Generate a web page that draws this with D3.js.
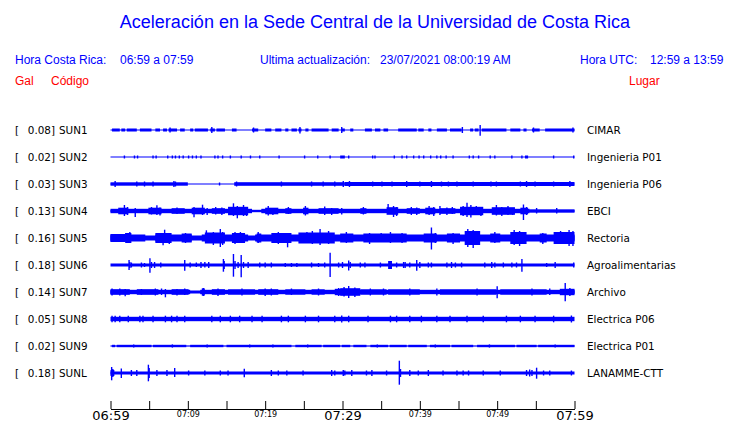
<!DOCTYPE html>
<html>
<head>
<meta charset="utf-8">
<script src="https://cdn.jsdelivr.net/npm/d3@7"></script>
<style>
  body { margin: 0; background: #fff; }
  svg { display: block; }
</style>
</head>
<body>
<svg width="740" height="423"></svg>
<script>
const codes = ["SUN1", "SUN2", "SUN3", "SUN4", "SUN5", "SUN6", "SUN7", "SUN8", "SUN9", "SUNL"];
const gals = [0.08, 0.02, 0.03, 0.13, 0.16, 0.18, 0.14, 0.05, 0.02, 0.18];
const places = ["CIMAR", "Ingenieria P01", "Ingenieria P06", "EBCI", "Rectoria",
  "Agroalimentarias", "Archivo", "Electrica P06", "Electrica P01", "LANAMME-CTT"];

// minutes after 06:59 ; amplitudes as half widths of the trace
const baseWidth = [0.5, 0.5, 0.5, 1.2, 2.5, 1.5, 1.5, 2.2, 0.6, 1.5];

// [start, end, half width]
const bands = [
  [[0.2,1.2,1.5],[1.4,1.9,1.5],[2.1,3.4,1.5],[3.8,5.3,1.5],[5.8,6.4,1.5],[6.8,7.3,1.5],[7.5,8.6,1.5],[9.0,9.6,1.5],
   [10.3,10.7,1.5],[10.9,12.6,1.5],[12.9,13.5,1.5],[13.7,14.8,1.5],[15.7,16.3,1.5],[18.3,19.1,1.5],[20.0,20.8,1.5],
   [21.3,22.1,1.5],[22.6,23.0,1.5],[23.4,24.1,1.5],[24.3,24.7,1.5],[25.2,25.6,1.5],[26.0,28.2,1.5],[28.6,29.5,1.5],
   [29.9,30.3,1.5],[31.0,31.4,1.5],[32.9,33.8,1.5],[34.2,34.9,1.5],[35.3,35.9,1.5],[37.2,39.6,1.5],[39.8,40.5,1.5],
   [41.1,41.5,1.5],[42.2,43.5,1.5],[43.9,45.4,1.5],[46.5,46.9,1.5],[47.1,47.6,1.5],[48.0,51.2,1.5],[51.7,53.0,1.5],
   [53.4,53.8,1.5],[54.5,55.5,1.5],[56.2,60,1.5]],
  [[29.7,30.3,1.5],[53.6,54.0,1.5]],
  [[0,10,1.7],[16,30.3,1.8],[30.3,60,2]],
  [[0,18.3,2.2],[19.5,54.2,2.2],[54.2,60,1.6],[1.0,2.3,3.3],[4.9,6.6,3.3],[7.9,9.6,2.8],[10.5,12.2,3.3],[13.1,14.8,2.8],
   [15.2,17.8,4.2],[20.0,21.7,3.3],[22.6,23.4,2.8],[24.9,25.6,3.3],[26.9,29.5,2.8],[32.3,33.1,2.8],[35.7,37.2,3.8],
   [38.3,40.0,2.8],[40.7,42.0,3.3],[42.6,44.6,2.8],[45.2,48.2,4.2],[49.3,52.3,3.8],[53.0,54.0,3.3]],
  [[0,4.5,3.5],[5.8,10.5,3.5],[11.8,17.8,3.5],[18.7,60,3.5],[0,1.9,4],[1.9,2.7,5],[5.8,7.9,5],[9.2,10.5,4.5],
   [12.2,14.8,5.5],[15.7,17.4,5],[18.9,19.5,4.5],[20.8,23.4,5],[24.3,29.0,5.5],[29.7,31.4,4.5],[32.7,38.3,4.5],
   [40.5,42.2,4.5],[43.5,45.2,4.5],[45.8,47.8,7],[49.1,50.4,4.5],[51.7,53.8,6],[55.5,56.4,4.5],[57.3,60,6]],
  [[35.9,36.4,4]],
  [[0,10.3,2.2],[11.6,60,2.2],[0,2.5,2.8],[3.4,6.2,2.8],[7.9,10.1,2.8],[11.8,12.2,3.6],[13.1,14.8,2.8],[15.2,18.7,2.7],
   [19.1,21.7,2.8],[22.6,25.2,2.7],[26.0,27.7,2.7],[29.0,30.3,3.2],[29.7,32.3,3.8],[32.3,35.7,2.7],[35.9,40.0,2.7],
   [42.6,49.9,2.7],[50.4,56.4,2.7],[58.1,60,3.2]],
  [],
  [[0.2,0.6,1.2],[0.8,5.3,1.2],[5.5,9.8,1.2],[10.3,14.6,1.2],[15.0,23.4,1.2],[23.9,27.3,1.2],[27.5,29.7,1.2],
   [29.9,31.0,1.2],[31.4,33.1,1.2],[33.6,35.9,1.2],[36.1,38.3,1.2],[38.5,40.9,1.2],[41.3,43.9,1.2],[44.1,46.9,1.2],
   [47.4,52.3,1.2],[52.5,55.1,1.2],[55.3,60,1.2]],
  [[0,0.5,3]]
];

// [time, up, down]
const peaks = [
  [[7.7,2.5,2.5],[13.1,3,3],[18.5,2.5,2.5],[24.5,3,3.5],[29.9,3,3],[45.5,3,3],[47.8,5,5.7],[54.7,2.5,2.5],[59.8,2.5,2.5]],
  [[1.8,1.5,1.5],[3.1,1.5,1.5],[3.5,1.5,1.5],[5.5,1.5,1.5],[5.9,1.5,1.5],[7.4,1.5,1.5],[8.0,1.5,1.5],[8.4,1.5,1.5],
   [8.9,1.5,1.5],[9.4,1.5,1.5],[10.1,1.5,1.5],[10.6,1.5,1.5],[11.1,1.5,1.5],[11.7,1.5,1.5],[13.5,1.5,1.5],[13.9,1.5,1.5],
   [14.5,1.5,1.5],[15.5,1.5,1.5],[16.9,1.5,1.5],[18.1,1.5,1.5],[19.3,1.5,1.5],[21.8,1.5,1.5],[25.1,1.5,1.5],[26.8,1.5,1.5],
   [28.4,1.5,1.5],[30.8,1.5,1.5],[33.9,1.5,1.5],[34.2,1.5,1.5],[36.7,1.5,1.5],[37.7,1.5,1.5],[38.3,1.5,1.5],[39.2,1.5,1.5],
   [39.9,1.5,1.5],[40.5,1.5,1.5],[41.4,1.5,1.5],[42.2,1.5,1.5],[42.7,1.5,1.5],[43.4,1.5,1.5],[44.3,1.5,1.5],[46.4,1.5,1.5],
   [46.9,1.5,1.5],[47.6,1.5,1.5],[49.1,1.5,1.5],[49.7,1.5,1.5],[51.9,1.5,1.5],[53.2,1.5,1.5],[57.3,1.5,1.5],[59.9,1.5,1.5]],
  [[0.6,3,3],[3.4,2.5,2.5],[4.4,2.5,2.5],[5.5,2.5,2.5],[8.2,3,3],[8.4,2.5,2.5],[14.1,1.5,1.5],[16.3,2.5,2.5],[22.1,2.5,2.5],
   [26.0,2.5,2.5],[27.5,2.5,2.5],[29.0,2.5,2.5],[30.1,3,3],[30.9,3,3],[33.9,2.5,2.5],[35.1,2.5,2.5],[36.4,2.5,2.5],
   [38.3,3,3],[40.0,2.5,2.5],[41.5,3,3],[42.8,2.5,2.5],[43.7,2.5,2.5],[44.8,2.5,2.5],[46.9,2.5,2.5],[49.2,2.5,2.5],
   [49.9,2.5,2.5],[53.0,2.5,2.5],[53.8,3,3],[54.9,2.5,2.5],[57.3,2.5,2.5],[59.4,3,3]],
  [[1.8,6,5],[2.2,4,4],[3.2,3,6],[5.3,4,3.5],[6.0,5.7,4],[6.4,3.5,4.5],[8.6,3.5,3],[10.8,4,6.3],[11.9,6.3,4],[12.5,3,4],
   [13.6,4,3.5],[14.4,3.5,4],[15.9,7.7,5],[16.4,5,7.3],[17.2,6,5],[17.6,4,5],[20.4,5,4.5],[21.0,3,4],[23.0,4,3],
   [25.2,5,4.5],[27.7,4.5,4],[28.6,3,4],[29.9,3,3.5],[32.7,4,3.5],[35.9,7,3],[36.6,5,6],[37.0,4,5],[38.9,4,4],
   [39.6,3.5,4],[41.2,5,4],[41.8,4,5],[42.6,5,4],[43.5,3.5,4],[44.2,4,3],[45.6,5,5],[46.1,8.3,6],[46.6,6,6.5],
   [47.3,5,4],[47.9,4,5],[49.9,6,4.5],[50.6,4,5],[51.4,5,4],[52.0,3,4],[53.4,6.5,9],[53.8,4,4],[55.1,3,2.5],[57.7,3,2.5]],
  [[2.0,5,4],[2.5,6,5],[6.8,5,7.3],[7.0,8.3,5],[7.6,5,6],[9.7,5,5],[12.4,7.7,5],[13.3,6,7],[14.2,9,9],[14.5,6,7],
   [16.1,6,6],[16.8,6,5],[19.1,6,5],[21.7,6,6],[22.9,5,9.3],[25.4,6,5],[26.1,7,6],[27.1,9,7],[28.2,7,6],[30.5,6,5],
   [33.5,5,6],[35.0,5,4],[36.2,6,5],[37.7,5,5],[41.5,10.5,11.5],[42.0,5,5],[44.3,5,6],[46.2,9,9],[46.9,8,10],[47.5,7,6],
   [49.7,6,5],[52.2,8,7],[52.9,7,8],[55.9,5,6],[58.2,7,6],[59.3,8,8],[59.8,7,8]],
  [[2.4,5,5],[2.5,3,3],[2.7,2.5,2.5],[4.0,2.5,2.5],[4.4,2,2],[5.1,6.7,7.7],[5.3,3,3],[5.7,3,3],[6.5,2.5,2.5],[9.6,5,5.7],
   [10.3,2.5,2.5],[11.1,2.5,2],[11.7,3,3],[12.2,3,2.5],[12.7,3,3],[14.6,6,6.7],[14.7,4,4],[15.9,11,11.7],[16.1,4,4],
   [16.5,3,3],[16.9,10,12.3],[17.2,3,3],[17.8,3,3],[19.3,2.5,2.5],[20.0,2.5,2.5],[20.8,2.5,2.5],[22.6,2,2],[23.4,2,2],
   [24.1,2,2],[26.0,2.5,2.5],[26.9,2,2],[27.7,2.5,2.5],[28.4,12.3,12],[29.5,2.5,2.5],[30.0,3,3],[30.8,4.5,5.5],
   [31.0,3,3],[32.3,2.5,2.5],[32.9,2.5,2.5],[34.9,2.5,2.5],[36.1,4,4],[37.0,2.5,2.5],[37.9,3,3],[38.1,3,3],[38.7,2.5,2.5],
   [39.6,5,5.7],[40.0,3,3],[41.1,2.5,2.5],[41.5,2.5,2.5],[43.5,2.5,2.5],[44.1,3,3],[44.6,2.5,2.5],[45.4,2.5,2.5],
   [48.4,2.5,2.5],[49.3,3,3],[49.7,2.5,2.5],[50.8,2.5,2.5],[51.9,2.5,2.5],[52.5,2.5,2.5],[53.2,6,6.7],[56.4,2,2],
   [57.5,3,3],[59.9,2.5,2.5]],
  [[0.2,3.5,3.5],[1.2,3.5,3.5],[1.9,3,4.3],[4.0,3,3],[5.8,3.5,3.5],[6.6,3.5,3],[7.1,3,5.3],[8.6,3,3.5],[9.6,3.5,3],
   [12.0,4,4],[13.9,3.5,4],[17.0,3.5,3.5],[20.0,3.5,4],[20.8,3.5,3.5],[23.4,3.5,3],[26.9,3.5,3.5],[29.5,4,4],[30.2,5,4.5],
   [30.8,6,6],[31.6,4.5,5],[33.6,3.5,3.5],[35.3,3.5,3.5],[38.7,3.5,3.5],[42.2,3.5,3.5],[47.4,3.5,3.5],[50.0,5.7,6.3],
   [54.5,3.5,3.5],[56.8,3.5,3],[58.8,9,9.3],[59.4,4,4]],
  [[0.2,3.3,3.3],[0.6,3.3,3.3],[1.2,3.3,3.3],[2.3,3.3,3.3],[3.8,3.3,3.3],[4.2,3.3,3.3],[5.5,3.3,3.3],[7.1,3.3,3.3],
   [7.9,3.3,3.3],[8.6,3.3,3.3],[9.6,3.3,3.3],[13.1,3.3,3.3],[14.2,3.3,3.3],[15.5,3.3,3.3],[16.7,3.3,3.3],[18.3,3.3,3.3],
   [19.6,3.3,3.3],[22.1,3.3,3.3],[23.0,3.3,3.3],[25.2,3.3,3.3],[26.9,3.3,3.3],[29.0,3.3,3.3],[29.9,3.5,3.5],
   [30.8,3.3,3.3],[33.3,3.3,3.3],[36.2,3.3,3.3],[37.0,3.3,3.3],[38.7,3.3,3.3],[40.2,3.3,3.3],[42.2,3.3,3.3],[43.9,3.3,3.3],
   [46.1,3.3,3.3],[48.2,3.3,3.3],[51.2,3.3,3.3],[53.0,3.3,3.3],[54.9,3.3,3.3],[57.3,3.3,3.3],[59.6,3.5,3.5]],
  [[3.0,1.6,1.6],[8.0,1.6,1.6],[12.5,1.6,1.6],[18.0,1.6,1.6],[21.0,1.6,1.6],[25.5,1.6,1.6],[34.5,1.6,1.6],[42.0,1.6,1.6],
   [49.0,1.6,1.6],[57.5,1.6,1.6]],
  [[0.15,6,7.3],[0.3,4,4],[1.4,4.5,5],[2.7,3,3],[3.4,3,3],[4.9,8.3,8.3],[5.0,5,5],[6.0,3,3],[7.3,3,3],[8.3,5,4],
   [10.1,2.5,2.5],[12.2,2.5,2.5],[14.2,2.5,2.5],[15.2,2.5,2.5],[17.3,4.3,4.3],[20.8,3,3],[21.7,2.5,2.5],[22.8,2.5,2.5],
   [24.9,2.5,2.5],[28.6,3,3],[29.0,2.5,2.5],[30.1,3,3],[30.3,2.5,2.5],[31.2,3,3],[33.1,2.5,2.5],[33.8,3,3],[35.7,2.5,2.5],
   [37.35,12.3,11.7],[37.5,4,4],[38.7,3,3],[39.8,2.5,2.5],[41.1,3,3],[43.0,2.5,2.5],[44.8,2.5,2.5],[45.6,2.5,2.5],
   [46.3,2.5,2.5],[48.2,2.5,2.5],[50.4,2.5,2.5],[53.8,3,3],[54.2,3.5,3.5],[54.5,3,3],[55.1,5.3,5.7],[56.0,2.5,2.5],
   [56.8,2.5,2.5],[59.6,2.5,2.5]]
];

const startTime = new Date(2021, 6, 23, 6, 59);
const endTime = new Date(2021, 6, 23, 7, 59);
const tickMinutes = [0, 5, 10, 15, 20, 25, 30, 35, 40, 45, 50, 55, 60];
const bigLabels = ["06:59", "07:29", "07:59"];
const smallLabels = ["07:09", "07:19", "07:39", "07:49"];

const blue = "#0000ff";
const red = "#ff0000";
const svg = d3.select("svg");

const x = d3.scaleTime().domain([startTime, endTime]).range([110.5, 574.5]);
const toDate = t => new Date(startTime.getTime() + t * 60000);
const tx = t => x(toDate(t));
const rowY = d3.scalePoint().domain(codes).range([130, 373]);
const amp = d3.scaleLinear().domain([-13.5, 13.5]).range([13.5, -13.5]);

// header
svg.append("text")
  .attr("x", 375).attr("y", 28)
  .attr("text-anchor", "middle")
  .attr("font-family", "Liberation Sans, Arial, sans-serif")
  .attr("font-size", 18)
  .attr("fill", blue)
  .text("Aceleración en la Sede Central de la Universidad de Costa Rica");

const header = [
  [15, 64, "Hora Costa Rica:", blue], [120, 64, "06:59 a 07:59", blue],
  [260, 64, "Ultima actualización:", blue], [380, 64, "23/07/2021 08:00:19 AM", blue],
  [580, 64, "Hora UTC:", blue], [650, 64, "12:59 a 13:59", blue],
  [15, 85, "Gal", red], [51, 85, "Código", red], [629, 85, "Lugar", red]
];
svg.append("g")
  .attr("font-family", "Liberation Sans, Arial, sans-serif")
  .attr("font-size", 12)
  .selectAll("text")
  .data(header)
  .join("text")
  .attr("x", d => d[0])
  .attr("y", d => d[1])
  .attr("fill", d => d[3])
  .text(d => d[2]);

// rows
const rows = svg.append("g")
  .selectAll("g.row")
  .data(codes)
  .join("g")
  .attr("class", "row")
  .attr("transform", d => `translate(0,${rowY(d)})`);

const labels = rows.append("g")
  .attr("font-family", "DejaVu Sans, sans-serif")
  .attr("font-size", 10.4)
  .attr("fill", "#000");
labels.append("text").attr("x", 15).attr("y", 3.8).text("[");
labels.append("text").attr("x", 55).attr("y", 3.8).attr("text-anchor", "end")
  .text((d, i) => gals[i].toFixed(2) + "]");
labels.append("text").attr("x", 59).attr("y", 3.8).text(d => d);
labels.append("text").attr("x", 587).attr("y", 3.8).text((d, i) => places[i]);

const traces = rows.append("g").attr("fill", blue).attr("stroke", blue);

traces.append("rect")
  .attr("stroke", "none")
  .attr("x", tx(0))
  .attr("width", tx(60) - tx(0))
  .attr("y", (d, i) => amp(baseWidth[i]))
  .attr("height", (d, i) => amp(-baseWidth[i]) - amp(baseWidth[i]));

traces.selectAll("rect.band")
  .data((d, i) => bands[i])
  .join("rect")
  .attr("class", "band")
  .attr("stroke", "none")
  .attr("x", d => tx(d[0]))
  .attr("width", d => tx(d[1]) - tx(d[0]))
  .attr("y", d => amp(d[2]))
  .attr("height", d => amp(-d[2]) - amp(d[2]));

traces.selectAll("line.peak")
  .data((d, i) => peaks[i])
  .join("line")
  .attr("class", "peak")
  .attr("stroke-width", 1.4)
  .attr("x1", d => tx(d[0]))
  .attr("x2", d => tx(d[0]))
  .attr("y1", d => amp(d[1]))
  .attr("y2", d => amp(-d[2]));

// time axis
const fmt = d3.timeFormat("%H:%M");
const xAxis = d3.axisBottom(x)
  .tickValues(tickMinutes.map(toDate))
  .tickSize(-8)
  .tickSizeOuter(0)
  .tickPadding(2)
  .tickFormat(d => {
    const s = fmt(d);
    return bigLabels.includes(s) || smallLabels.includes(s) ? s : "";
  });

const xAxisG = svg.append("g")
  .attr("transform", "translate(0,409)")
  .call(xAxis);
xAxisG.selectAll("text")
  .attr("font-family", "DejaVu Sans, sans-serif")
  .attr("fill", "#000")
  .attr("font-size", d => bigLabels.includes(fmt(d)) ? 13 : 8);
xAxisG.selectAll("line, path").attr("stroke", "#000");
</script>
</body>
</html>
